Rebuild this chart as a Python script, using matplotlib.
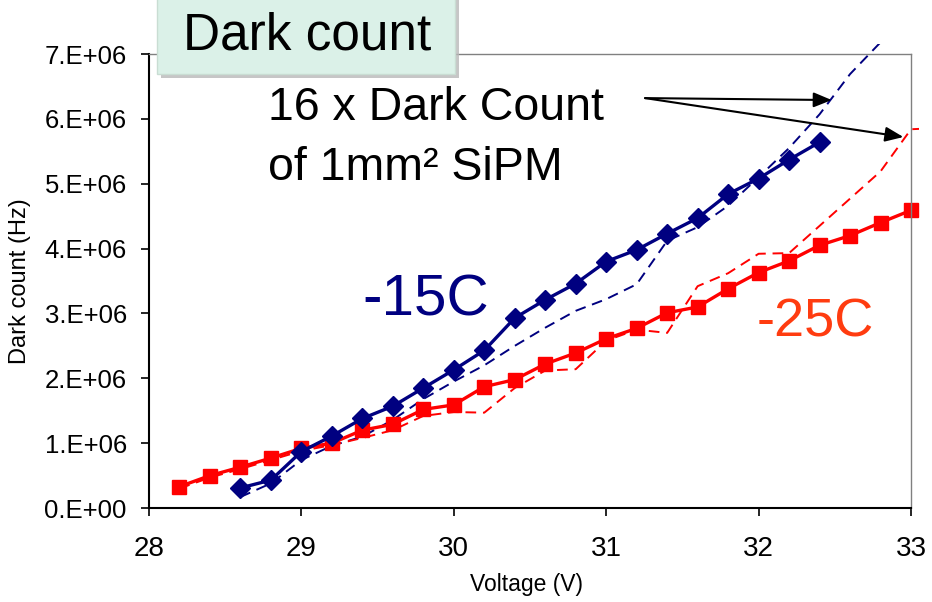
import matplotlib
matplotlib.use('Agg')
import matplotlib.pyplot as plt
from matplotlib.patches import Rectangle
from matplotlib import font_manager

# ---------------- data ----------------
voltage_15 = [28.6, 28.8, 29.0, 29.2, 29.4, 29.6, 29.8, 30.0, 30.2, 30.4,
              30.6, 30.8, 31.0, 31.2, 31.4, 31.6, 31.8, 32.0, 32.2, 32.4]
dark_15 = [0.31, 0.43, 0.87, 1.11, 1.38, 1.57, 1.85, 2.13, 2.43, 2.93,
           3.21, 3.46, 3.80, 3.98, 4.23, 4.47, 4.84, 5.08, 5.37, 5.64]

voltage_25 = [28.2, 28.4, 28.6, 28.8, 29.0, 29.2, 29.4, 29.6, 29.8, 30.0,
              30.2, 30.4, 30.6, 30.8, 31.0, 31.2, 31.4, 31.6, 31.8, 32.0,
              32.2, 32.4, 32.6, 32.8, 33.0, 33.2]
dark_25 = [0.33, 0.50, 0.63, 0.77, 0.92, 1.00, 1.20, 1.29, 1.52, 1.59,
           1.87, 1.98, 2.22, 2.39, 2.61, 2.77, 3.01, 3.10, 3.38, 3.63,
           3.81, 4.05, 4.20, 4.40, 4.59, 4.80]

voltage_ref15 = [28.6, 28.8, 29.0, 29.2, 29.4, 29.6, 29.8, 30.0, 30.2, 30.4,
                 30.6, 30.8, 31.0, 31.2, 31.4, 31.6, 31.8, 32.0, 32.2, 32.4,
                 32.6, 32.8]
ref_15 = [0.17, 0.38, 0.74, 0.96, 1.10, 1.36, 1.68, 1.95, 2.20, 2.50,
          2.78, 3.04, 3.22, 3.45, 4.12, 4.33, 4.66, 5.10, 5.55, 6.07,
          6.69, 7.18]

voltage_ref25 = [28.2, 28.4, 28.6, 28.8, 29.0, 29.2, 29.4, 29.6, 29.8, 30.0,
                 30.2, 30.4, 30.6, 30.8, 31.0, 31.2, 31.4, 31.6, 31.8, 32.0,
                 32.2, 32.4, 32.6, 32.8, 33.0, 33.2]
ref_25 = [0.30, 0.47, 0.60, 0.74, 0.88, 0.97, 1.08, 1.20, 1.42, 1.48,
          1.47, 1.85, 2.12, 2.14, 2.58, 2.75, 2.70, 3.42, 3.62, 3.92,
          3.93, 4.35, 4.77, 5.19, 5.84, 5.86]

scale = 1e6
xticks = [28, 29, 30, 31, 32, 33]
yticks = [0, 1e6, 2e6, 3e6, 4e6, 5e6, 6e6, 7e6]
ytick_labels = ['0.E+00', '1.E+06', '2.E+06', '3.E+06', '4.E+06',
                '5.E+06', '6.E+06', '7.E+06']

# ---------------- fonts ----------------
available = {f.name for f in font_manager.fontManager.ttflist}
base_font = 'Liberation Sans' if 'Liberation Sans' in available else 'DejaVu Sans'
narrow_font = 'Liberation Sans Narrow' if 'Liberation Sans Narrow' in available else base_font
plt.rcParams['font.family'] = [base_font, 'DejaVu Sans']
plt.rcParams['mathtext.fontset'] = 'custom'
plt.rcParams['mathtext.rm'] = base_font

W, H = 932, 602
fig = plt.figure(figsize=(W / 100, H / 100), dpi=100)

def px(x, y):
    return x / W, 1 - y / H

ax_left, ax_right, ax_top, ax_bottom = 149, 911, 54, 508
ax = fig.add_axes([ax_left / W, 1 - ax_bottom / H,
                   (ax_right - ax_left) / W, (ax_bottom - ax_top) / H])

navy = '#000080'
red = '#ff0000'

clip_rect = Rectangle((0, 0), 1 + 8 / 762, 1 + 10 / 454, transform=ax.transAxes)

lines = []
lines += ax.plot(voltage_ref15, [v * scale for v in ref_15], color=navy,
                 lw=1.4, dashes=(5.5, 3.5))
lines += ax.plot(voltage_ref25, [v * scale for v in ref_25], color=red,
                 lw=1.4, dashes=(5.5, 3.5))
lines += ax.plot(voltage_25, [v * scale for v in dark_25], color=red, lw=2.4,
                 marker='s', ms=9.5, mec=red, mfc=red)
lines += ax.plot(voltage_15, [v * scale for v in dark_15], color=navy, lw=2.4,
                 marker='D', ms=10.5, mec=navy, mfc=navy)
for ln in lines:
    ln.set_clip_path(clip_rect)

ax.set_xlim(28, 33)
ax.set_ylim(0, 7e6)
ax.set_xticks(xticks)
ax.set_xticklabels([str(t) for t in xticks], fontsize=20, family=[narrow_font, base_font])
ax.set_yticks(yticks)
ax.set_yticklabels(ytick_labels, fontsize=18.5)
ax.tick_params(axis='both', direction='out', length=6, width=1.2, color='black')
ax.tick_params(axis='y', pad=10)
ax.tick_params(axis='x', pad=14)

for s in ['left', 'bottom']:
    ax.spines[s].set_color('black')
    ax.spines[s].set_linewidth(1.5)
for s in ['top', 'right']:
    ax.spines[s].set_color('#808080')
    ax.spines[s].set_linewidth(1.0)

ax.set_xlabel('Voltage (V)', fontsize=16.5)
ax.xaxis.set_label_coords((526 - ax_left) / 762, (ax_bottom - 584) / 454)
ax.xaxis.label.set_va('center')
ax.set_ylabel('Dark count (Hz)', fontsize=17)
ax.yaxis.set_label_coords((20 - ax_left) / 762, (ax_bottom - 281) / 454)
ax.yaxis.label.set_va('center')

# annotation arrows
tail = (31.255, 6.32e6)
arrow_style = dict(arrowstyle='-|>,head_length=1.1,head_width=0.45',
                   color='black', lw=1.5, shrinkA=0, shrinkB=0)
ax.annotate('', xy=(32.48, 6.29e6), xytext=tail, arrowprops=arrow_style,
            annotation_clip=False)
ax.annotate('', xy=(32.95, 5.72e6), xytext=tail, arrowprops=arrow_style,
            annotation_clip=False)

fig.text(*px(268, 120), '16 x Dark Count', fontsize=33.5, ha='left', va='baseline')
fig.text(*px(268, 180), 'of 1mm\u00b2 SiPM', fontsize=33.5, ha='left', va='baseline')
fig.text(*px(362, 315), '-15C', fontsize=42, color=navy, ha='left', va='baseline')
fig.text(*px(757, 337), '-25C', fontsize=39, color='#ff3c10', ha='left', va='baseline')

# title box with shadow
bx0, bx1, by1 = 157, 455, 74
shadow = Rectangle(px(bx0 + 4, by1 + 4), (bx1 - bx0) / W, (by1 + 20) / H,
                   transform=fig.transFigure, facecolor='#b8b8b8', edgecolor='none',
                   alpha=0.8, zorder=5)
box = Rectangle(px(bx0, by1), (bx1 - bx0) / W, (by1 + 20) / H,
                transform=fig.transFigure, facecolor='#dbf1e8', edgecolor='#c9ddd3',
                lw=1.0, zorder=6)
fig.patches.extend([shadow, box])
fig.text(*px(183, 50), 'Dark count', fontsize=37, ha='left', va='baseline', zorder=7)

fig.savefig('out.png', dpi=100)
